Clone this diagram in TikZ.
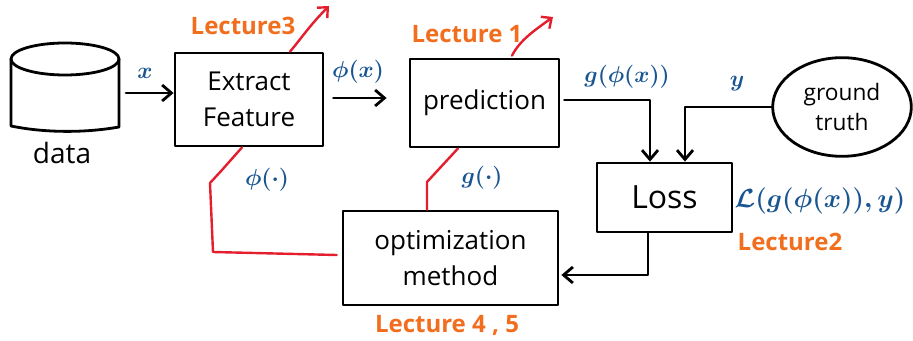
\documentclass[tikz,border=0pt]{standalone}
\usepackage{fontspec}
\setmainfont{Open Sans}
\usetikzlibrary{arrows.meta,calc,shapes.geometric}
\definecolor{inkblue}{RGB}{25,85,145}
\definecolor{inkorange}{RGB}{240,110,30}
\definecolor{inkred}{RGB}{228,30,45}
\tikzset{
  ink/.style={line width=2.1pt, line cap=round, line join=round},
  redink/.style={line width=1.8pt, inkred, line cap=round, line join=round},
  arr/.style={ink, -{Straight Barb[length=7pt, width=12pt, line width=2.1pt]}},
  redarr/.style={redink, -{Straight Barb[length=6pt, width=11pt, line width=1.8pt]}},
  box/.style={ink, draw, rectangle, inner sep=0pt, align=center, font=\fontsize{19.5}{27}\selectfont},
  bluelabel/.style={inkblue, font=\fontsize{17.28}{20}\selectfont\boldmath, inner sep=0pt},
  lecture/.style={inkorange, font=\fontsize{18}{20}\selectfont\bfseries, inner sep=0pt},
}
\begin{document}
\begin{tikzpicture}[x=0.75pt, y=-0.75pt]
\useasboundingbox (0,0) rectangle (913,341);

% data store drawn as a cylinder
\draw[ink] (65,59) ellipse [x radius=54, y radius=16];
\draw[ink] (11,59) -- (11,126) .. controls (45,133) and (85,133) .. (119,127) -- (119,59);
\coordinate (dataR) at (126,93);
\node[font=\fontsize{21}{24}\selectfont] (datalbl) at (62,153) {data};

% processing blocks
\node[box, minimum width=111pt, minimum height=69.75pt] (ext) at (249,99.5) {Extract\\Feature};
\node[box, minimum width=111.75pt, minimum height=66pt] (pred) at (484.5,103) {prediction};
\node[box, minimum width=101.25pt, minimum height=51.75pt, font=\fontsize{24}{28}\selectfont] (loss) at (664.5,197.5) {Loss};
\node[box, minimum width=161.25pt, minimum height=70.5pt] (opt) at (450.5,258) {optimization\\method};
\node[ink, draw, ellipse, inner sep=0pt, minimum width=104pt, minimum height=74pt, align=center,
      font=\fontsize{17}{23}\selectfont] (gt) at (842,107) {ground\\truth};

% data flow
\draw[arr] (dataR) -- (ext.west |- dataR);
\draw[arr] ($(ext.east)+(9,-1.5)$) -- ($(pred.west)+(-22,-5)$);
\draw[arr] ($(pred.east)+(4,-3)$) -| ($(loss.north)+(-14.5,0)$);
\draw[arr] (gt.west) -| ($(loss.north)+(20.5,0)$);
\draw[arr] ($(loss.south)+(-16.5,0)$) |- ($(opt.east)+(2,17)$);

% parameter updates
\draw[redink] ($(opt.west)+(-5,-3)$) -- (213,252) -- (210,183) -- (222,170) -- ($(ext.south)+(-7,0)$);
\draw[redink] ($(opt.north)+(-23.5,0)$) -- (427,182) -- ($(pred.south)+(-26.5,0)$);

% pointers to lectures
\coordinate (l3tip) at (329,6);
\coordinate (l1tip) at (553,17);
\draw[redarr] ($(ext.north)+(41,0)$) .. controls (300,40) and (310,25) .. (l3tip);
\draw[redarr] ($(pred.north)+(27.5,-2)$) .. controls (520,40) and (535,30) .. (l1tip);

% signal labels
\node[bluelabel] (xlbl) at (145,73) {$x$};
\node[bluelabel] (philbl) at (358,72) {$\phi(x)$};
\node[bluelabel] (gphilbl) at (627,77) {$g(\phi(x))$};
\node[bluelabel] (ylbl) at (737,84) {$y$};
\node[bluelabel] (losslbl) at (820,201) {\scalebox{1.14}{$\mathcal{L}(g(\phi(x)),y)$}};
\node[bluelabel] (phidot) at (267,180) {$\phi(\cdot)$};
\node[bluelabel] (gdot) at (482,178) {$g(\cdot)$};

% lecture references
\node[lecture] (lec3) at (243,26) {Lecture3};
\node[lecture] (lec1) at (467,34) {Lecture 1};
\node[lecture] (lec2) at (790,242) {Lecture2};
\node[lecture] (lec45) at (447,325) {Lecture 4 , 5};
\end{tikzpicture}
\end{document}
